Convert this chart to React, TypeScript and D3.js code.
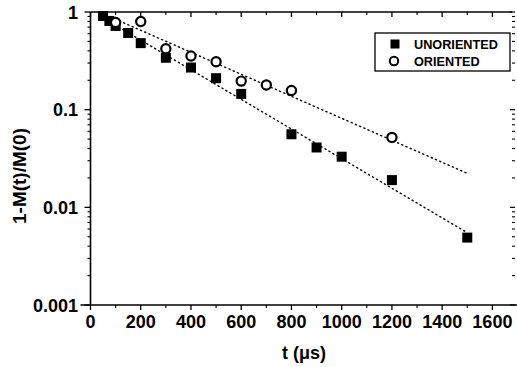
import * as d3 from 'd3';

// measured data
const unorientedT = [50, 75, 100, 150, 200, 300, 400, 500, 600, 800, 900, 1000, 1200, 1500];
const unorientedV = [0.91, 0.81, 0.72, 0.61, 0.48, 0.34, 0.27, 0.21, 0.145, 0.056, 0.041, 0.033, 0.019, 0.0049];
const orientedT = [100, 200, 300, 400, 500, 600, 700, 800, 1200];
const orientedV = [0.78, 0.8, 0.42, 0.355, 0.31, 0.196, 0.179, 0.157, 0.052];

// fitted exponential decays (endpoints)
const unorientedFitT = [50, 1500];
const unorientedFitV = [0.87, 0.0055];
const orientedFitT = [115, 1500];
const orientedFitV = [0.81, 0.0223];

const xTicks = [0, 200, 400, 600, 800, 1000, 1200, 1400, 1600];
const yTicks = [0.001, 0.01, 0.1, 1];
const yTickLabels = ['0.001', '0.01', '0.1', '1'];
const legendLabels = ['UNORIENTED', 'ORIENTED'];

const W = 517;
const H = 367;
const font = '"Liberation Sans", Arial, sans-serif';

export default function App() {
  const x = d3.scaleLinear().domain([0, 1690]).range([90.5, 515]);
  const y = d3.scaleLog().domain([0.001, 1]).range([305, 12]);
  const [x0, x1] = x.range();
  const [yb, yt] = y.range();

  const minorX = d3.range(100, 1700, 200);
  const minorY: number[] = [];
  [0.001, 0.01, 0.1].forEach((d) => {
    for (let k = 2; k <= 9; k++) minorY.push(d * k);
  });

  const line = d3
    .line<[number, number]>()
    .x((d) => x(d[0]))
    .y((d) => y(d[1]));

  const uFit = unorientedFitT.map((t, i) => [t, unorientedFitV[i]] as [number, number]);
  const oFit = orientedFitT.map((t, i) => [t, orientedFitV[i]] as [number, number]);

  const sq = 10;

  return (
    <svg
      width={W}
      height={H}
      style={{ position: 'absolute', left: 0, top: 0, background: '#fff' }}
      fontFamily={font}
    >
      {/* frame */}
      <line x1={x0} x2={x0} y1={yb} y2={yt} stroke="#000" strokeWidth={1.6} />
      <line x1={x0 - 10} x2={W} y1={yb} y2={yb} stroke="#000" strokeWidth={1.4} />
      <line x1={x0} x2={x1 - 3} y1={yt} y2={yt} stroke="#000" strokeWidth={1.4} />

      {/* bottom / top ticks */}
      {xTicks.map((t) => (
        <g key={'xt' + t}>
          <line x1={x(t)} x2={x(t)} y1={yb} y2={yb + 5} stroke="#000" strokeWidth={1.3} />
          <line x1={x(t)} x2={x(t)} y1={yt} y2={yt + 5} stroke="#000" strokeWidth={1.3} />
          <text x={x(t)} y={328} textAnchor="middle" fontSize={18} fontWeight="bold">
            {t}
          </text>
        </g>
      ))}
      {minorX.map((t) => (
        <g key={'xm' + t}>
          <line x1={x(t)} x2={x(t)} y1={yb} y2={yb + 3} stroke="#000" strokeWidth={1.1} />
          <line x1={x(t)} x2={x(t)} y1={yt} y2={yt + 3} stroke="#000" strokeWidth={1.1} />
        </g>
      ))}

      {/* left / right ticks */}
      {yTicks.map((v, i) => (
        <g key={'yt' + v}>
          <line x1={x0 - 6} x2={x0} y1={y(v)} y2={y(v)} stroke="#000" strokeWidth={1.3} />
          <line x1={x1 - 5} x2={x1} y1={y(v)} y2={y(v)} stroke="#000" strokeWidth={1.2} />
          <text x={78} y={y(v) + 6.5} textAnchor="end" fontSize={18} fontWeight="bold">
            {yTickLabels[i]}
          </text>
        </g>
      ))}
      {minorY.map((v) => (
        <g key={'ym' + v}>
          <line x1={x0 - 3} x2={x0} y1={y(v)} y2={y(v)} stroke="#000" strokeWidth={1.1} />
          <line x1={x1 - 3} x2={x1} y1={y(v)} y2={y(v)} stroke="#000" strokeWidth={1.1} />
        </g>
      ))}

      {/* fit lines */}
      <path d={line(uFit) ?? ''} fill="none" stroke="#000" strokeWidth={1.4} strokeDasharray="1.2 3.4" strokeLinecap="round" />
      <path d={line(oFit) ?? ''} fill="none" stroke="#000" strokeWidth={1.4} strokeDasharray="1.2 3.4" strokeLinecap="round" />

      {/* data */}
      {unorientedT.map((t, i) => (
        <rect key={'u' + t} x={x(t) - sq / 2} y={y(unorientedV[i]) - sq / 2} width={sq} height={sq} fill="#000" />
      ))}
      {orientedT.map((t, i) => (
        <circle key={'o' + t} cx={x(t)} cy={y(orientedV[i])} r={4.6} fill="#fff" stroke="#000" strokeWidth={2.2} />
      ))}

      {/* legend */}
      <rect x={375} y={33} width={135} height={38} fill="#fff" stroke="#000" strokeWidth={1.3} />
      <rect x={390.5} y={39.5} width={9} height={9} fill="#000" />
      <circle cx={394} cy={61} r={4.2} fill="#fff" stroke="#000" strokeWidth={2} />
      <text x={414} y={49} fontSize={12.7} fontWeight="bold">
        {legendLabels[0]}
      </text>
      <text x={414} y={66} fontSize={12.7} fontWeight="bold">
        {legendLabels[1]}
      </text>

      {/* axis titles */}
      <text x={304} y={359} textAnchor="middle" fontSize={18} fontWeight="bold">
        t (μs)
      </text>
      <text
        transform={`translate(26,176) rotate(-90)`}
        textAnchor="middle"
        fontSize={19}
        fontWeight="bold"
      >
        1-M(t)/M(0)
      </text>
    </svg>
  );
}
